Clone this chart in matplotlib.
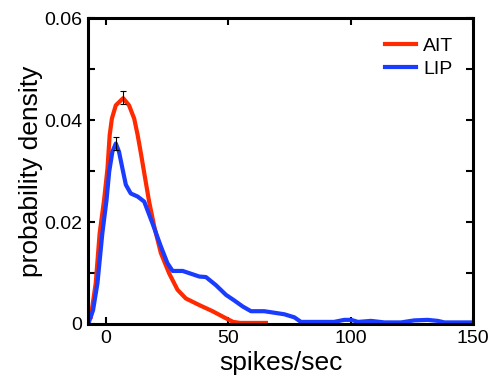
import numpy as np
import matplotlib
matplotlib.use("Agg")
import matplotlib.pyplot as plt
from matplotlib.ticker import MultipleLocator, FuncFormatter

plt.rcParams['font.family'] = ['Liberation Sans', 'DejaVu Sans']

# AIT density curve
ait_x = [-6.1, -4.1, -2.5, -0.7, 0.7, 1.6, 2.5, 4.1, 7.1, 9.5, 11.6, 13, 14.3,
         16.1, 17.7, 19.8, 22.5, 25.9, 29.3, 32.7, 38.2, 43.6, 49.1, 52, 55, 65.4]
ait_y = [0.0014, 0.008, 0.0178, 0.0243, 0.0305, 0.0371, 0.0403, 0.0429, 0.0443,
         0.0429, 0.0403, 0.0371, 0.0336, 0.0285, 0.024, 0.0191, 0.0139, 0.0099,
         0.0067, 0.005, 0.0037, 0.0025, 0.0011, 0.0004, 0.0002, 0.0002]

# LIP density curve
lip_x = [-6.8, -5.2, -3.4, -1.4, 0.3, 1.4, 2.7, 4.1, 5.4, 6.8, 8.2, 10.2, 13,
         15.7, 19.1, 22.5, 25.2, 27.3, 31.4, 38.2, 40.9, 45, 49.1, 52.5, 56,
         59.3, 64.7, 72.9, 77, 79.7, 93.2, 97.4, 100.2, 103, 108.3, 113.8,
         120.6, 126, 131.5, 135.6, 138.3, 150]
lip_y = [0.0005, 0.0027, 0.008, 0.0178, 0.0243, 0.0299, 0.0338, 0.0354, 0.0338,
         0.0305, 0.0273, 0.0256, 0.025, 0.024, 0.0197, 0.0152, 0.0119, 0.0104,
         0.0104, 0.0093, 0.0092, 0.0076, 0.0057, 0.0046, 0.0034, 0.0025, 0.0025,
         0.0019, 0.0013, 0.0004, 0.0004, 0.0008, 0.0008, 0.0004, 0.0006, 0.0003,
         0.0003, 0.0007, 0.0008, 0.0006, 0.0003, 0.0003]

# error bars at the peaks
peak_x = [7.1, 4.1]
peak_y = [0.0444, 0.0354]
peak_err = [0.0013, 0.0013]

red = '#ff2a00'
blue = '#1a3cff'

fig = plt.figure(figsize=(4.98, 3.78), dpi=100)
ax = fig.add_axes([0.177, 0.143, 0.773, 0.809])

ax.plot(ait_x, ait_y, color=red, lw=3, label='AIT', solid_joinstyle='round')
ax.plot(lip_x, lip_y, color=blue, lw=3, label='LIP', solid_joinstyle='round')
ax.errorbar(peak_x, peak_y, yerr=peak_err, fmt='none', ecolor='black',
            elinewidth=0.8, capsize=2.5, capthick=0.8, zorder=5)

ax.set_xlim(-7.2, 150)
ax.set_ylim(0, 0.06)
ax.xaxis.set_major_locator(MultipleLocator(50))
ax.yaxis.set_major_locator(MultipleLocator(0.01))
ax.yaxis.set_major_formatter(FuncFormatter(
    lambda v, p: ('0' if abs(v) < 1e-9 else f'{v:.2f}') if round(v * 100) % 2 == 0 else ''))

for s in ax.spines.values():
    s.set_linewidth(2.2)
ax.tick_params(direction='in', length=5, width=1.5, labelsize=14,
               top=True, right=True, pad=4)

ax.set_xlabel('spikes/sec', fontsize=19, labelpad=3)
ax.set_ylabel('probability density', fontsize=19, labelpad=1)

leg = ax.legend(loc='upper right', frameon=False, fontsize=14, handlelength=1.6,
                handletextpad=0.4, labelspacing=0.25, borderaxespad=0.6)

fig.savefig('out.png', dpi=100)
